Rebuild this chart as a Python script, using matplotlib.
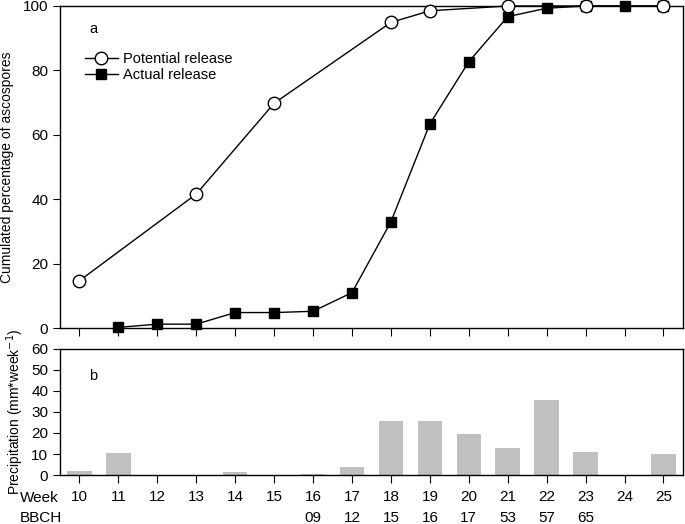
import numpy as np
import matplotlib
matplotlib.use('Agg')
from matplotlib import pyplot as plt
from matplotlib.transforms import blended_transform_factory

# Week numbers
weeks = [10, 11, 12, 13, 14, 15, 16, 17, 18, 19, 20, 21, 22, 23, 24, 25]

# Potential release (open circles)
pot_weeks = [10, 13, 15, 18, 19, 21, 23, 25]
pot_vals = [14.7, 41.6, 69.8, 94.9, 98.5, 100, 100, 100]

# Actual release (filled squares)
act_weeks = [11, 12, 13, 14, 15, 16, 17, 18, 19, 20, 21, 22, 23, 24, 25]
act_vals = [0.2, 1.2, 1.2, 4.8, 4.8, 5.2, 11.0, 33.0, 63.4, 82.7, 96.7, 99.3, 100, 100, 100]

# Weekly precipitation
precip = [2.0, 10.6, 0, 0, 1.2, 0, 0.6, 3.8, 25.8, 25.8, 19.3, 13.0, 35.9, 10.9, 0, 10.1]

# BBCH growth stages
bbch_weeks = [16, 17, 18, 19, 20, 21, 22, 23]
bbch_labels = ['09', '12', '15', '16', '17', '53', '57', '65']

plt.rc('font', family=['Liberation Sans', 'DejaVu Sans'])

fig = plt.figure(figsize=(6.85, 5.24), dpi=100)
ax1 = fig.add_axes([0.0876, 0.374, 0.9094, 0.6146])
ax2 = fig.add_axes([0.0876, 0.0935, 0.9094, 0.2405])

fs = 11

# Panel a
ax1.plot(act_weeks, act_vals, color='k', lw=1, marker='s', ms=7.8,
         mfc='k', mec='k', label='Actual release', zorder=3, clip_on=False)
ax1.plot(pot_weeks, pot_vals, color='k', lw=1, marker='o', ms=9,
         mfc='white', mec='k', mew=1, label='Potential release', zorder=4,
         clip_on=False)
ax1.set_xlim(9.5, 25.5)
ax1.set_ylim(0, 100)
ax1.set_xticks(weeks)
ax1.set_xticklabels([])
ax1.set_yticks([0, 20, 40, 60, 80, 100])
ax1.tick_params(direction='out', length=5, labelsize=fs)
ax1.tick_params(axis='x', length=6)
ax1.set_ylabel('Cumulated percentage of ascospores', fontsize=10, labelpad=6)
ax1.text(0.047, 0.93, 'a', transform=ax1.transAxes, fontsize=10.5, va='center')
handles, labels = ax1.get_legend_handles_labels()
ax1.legend(handles[::-1], labels[::-1], loc='upper left',
           bbox_to_anchor=(0.03, 0.875), frameon=False, fontsize=10.5,
           handlelength=2.3, handletextpad=0.35, labelspacing=0.15,
           borderaxespad=0)

# Panel b
ax2.bar(weeks, precip, width=0.63, color='#c0c0c0', edgecolor='none')
ax2.set_xlim(9.5, 25.5)
ax2.set_ylim(0, 60)
ax2.set_xticks(weeks)
ax2.set_xticklabels([str(w) for w in weeks])
ax2.set_yticks([0, 10, 20, 30, 40, 50, 60])
ax2.tick_params(direction='out', length=5, labelsize=fs)
ax2.tick_params(axis='x', length=6, pad=5)
ax2.set_ylabel(r'Precipitation (mm*week$^{-1}$)', fontsize=10, labelpad=4)
ax2.text(0.047, 0.786, 'b', transform=ax2.transAxes, fontsize=10.5, va='center')

trans = blended_transform_factory(ax2.transData, ax2.transAxes)
for w, lab in zip(bbch_weeks, bbch_labels):
    ax2.text(w, -0.34, lab, transform=trans, ha='center', va='center', fontsize=fs)
fig.text(0.029, 0.049, 'Week', ha='left', va='center', fontsize=fs)
fig.text(0.029, 0.011, 'BBCH', ha='left', va='center', fontsize=fs)

for ax in (ax1, ax2):
    for sp in ax.spines.values():
        sp.set_linewidth(1)

plt.savefig('out.png', dpi=100)
